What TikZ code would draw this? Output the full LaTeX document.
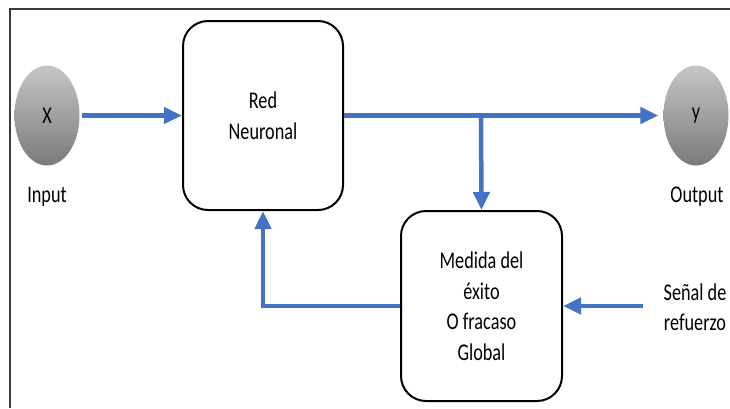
\documentclass[tikz,border=0pt]{standalone}
\usepackage{fontspec}
\setmainfont{Carlito}[FakeStretch=0.76]
\usetikzlibrary{arrows.meta,shapes.geometric}
\definecolor{flow}{HTML}{4472C4}
\definecolor{balltop}{HTML}{C6C6C6}
\definecolor{ballbot}{HTML}{7A7A7A}
\definecolor{framecol}{HTML}{3C3C3C}
\begin{document}
\begin{tikzpicture}[x=1pt,y=-1pt,
  every node/.style={font=\fontsize{24}{30.5}\selectfont},
  block/.style={draw=black, line width=2pt, rounded corners=25pt,
    minimum width=160pt, minimum height=189pt, align=center, inner sep=0pt},
  ball/.style={ellipse, top color=balltop, bottom color=ballbot,
    minimum width=65pt, minimum height=100pt, inner sep=0pt},
  lbl/.style={align=center, inner sep=0pt},
  flowline/.style={draw=flow, line width=4.5pt, -{Triangle[width=16pt,length=18pt]}}
]
\useasboundingbox (0,0) rectangle (730,408);
% frame lines on the top and left
\draw[framecol, line width=1.5pt] (10,408) -- (10,9) -- (730,9);

% nodes
\node[ball] (x) at (47,115.5) {X};
\node[ball] (y) at (696,115.5) {y};
\node[lbl] (input) at (47,197) {Input};
\node[lbl] (output) at (697,197) {Output};
\node[block] (red) at (263,115.5) {Red\\Neuronal};
\node[block, minimum width=161pt, minimum height=190pt] (medida) at (481.5,306) {Medida del\\éxito\\O fracaso\\Global};
\node[lbl] (senal) at (695,307) {Señal de\\refuerzo};

\coordinate (branch) at (481,115.5);
\coordinate (senalstart) at (643,306);

% connectors
\draw[flowline] (x.east) ++(2,0) -- (red.west);
\draw[flowline, shorten >=5pt] (red.east) -- (y.west);
\draw[flowline] (branch) -- (medida.north);
\draw[flowline] (medida.west) -| (red.south);
\draw[flowline] (senalstart) -- (medida.east);
\end{tikzpicture}
\end{document}
